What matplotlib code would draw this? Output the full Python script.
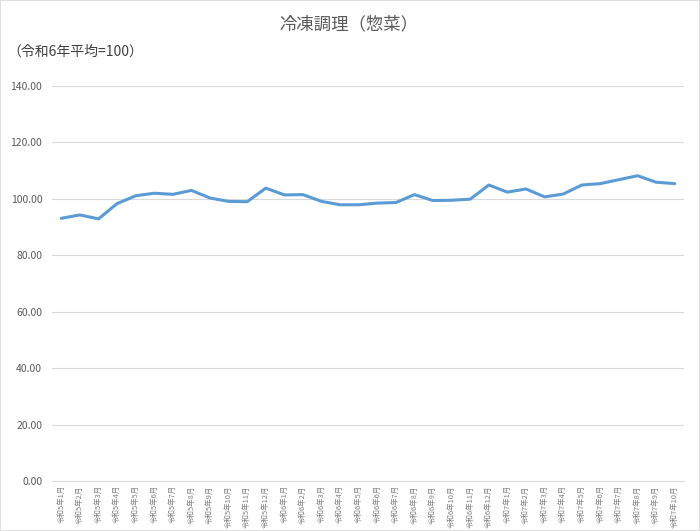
import matplotlib
matplotlib.use("Agg")
import matplotlib.pyplot as plt
from matplotlib.patches import Rectangle

plt.rcParams['font.family'] = ['Noto Sans CJK JP', 'DejaVu Sans']

title = "冷凍調理（惣菜）"
subtitle = "（令和6年平均=100）"
months = (["令和5年%d月" % m for m in range(1, 13)] +
          ["令和6年%d月" % m for m in range(1, 13)] +
          ["令和7年%d月" % m for m in range(1, 11)])
values = [93.1, 94.3, 92.9, 98.3, 101.1, 102.0, 101.6, 103.0, 100.3, 99.1, 99.0, 103.8,
          101.4, 101.5, 99.1, 97.9, 97.9, 98.5, 98.7, 101.5, 99.4, 99.5, 99.9, 104.9,
          102.4, 103.5, 100.7, 101.7, 104.9, 105.4, 106.8, 108.2, 105.9, 105.4]
yticks = [0, 20, 40, 60, 80, 100, 120, 140]

W, H = 700, 531
fig = plt.figure(figsize=(W / 100, H / 100), dpi=100)
ax = fig.add_axes([52 / W, 1 - 481 / H, (684 - 52) / W, (481 - 86) / H])

x = list(range(len(values)))
ax.plot(x, values, color='#5B9BD5', linewidth=2.2, solid_joinstyle='round', solid_capstyle='round')
ax.set_xlim(-0.5, len(values) - 0.5)
ax.set_ylim(0, 140)
ax.set_yticks(yticks)
ax.set_yticklabels(["%.2f" % v for v in yticks], color='#595959', fontsize=7.5)
ax.set_xticks(x)
ax.set_xticklabels(months, rotation=90, fontsize=5.4, color='#7F7F7F', va='top', ha='center')
ax.tick_params(axis='both', length=0)
ax.tick_params(axis='y', pad=7)
ax.tick_params(axis='x', pad=3)
ax.grid(axis='y', color='#D9D9D9', linewidth=0.8)
ax.set_axisbelow(True)
for s in ['top', 'right', 'left']:
    ax.spines[s].set_visible(False)
ax.spines['bottom'].set_color('#D9D9D9')
ax.spines['bottom'].set_linewidth(0.8)

fig.text(349 / W, 1 - 24 / H, title, ha='center', va='center', fontsize=12.5, color='#595959')
fig.text(7 / W, 1 - 52 / H, subtitle, ha='left', va='center', fontsize=10, color='#404040')

fig.patches.append(Rectangle((0, 0), 1, 1, transform=fig.transFigure, fill=False,
                             edgecolor='#D9D9D9', linewidth=1.2))
fig.savefig("out.png", dpi=100)
